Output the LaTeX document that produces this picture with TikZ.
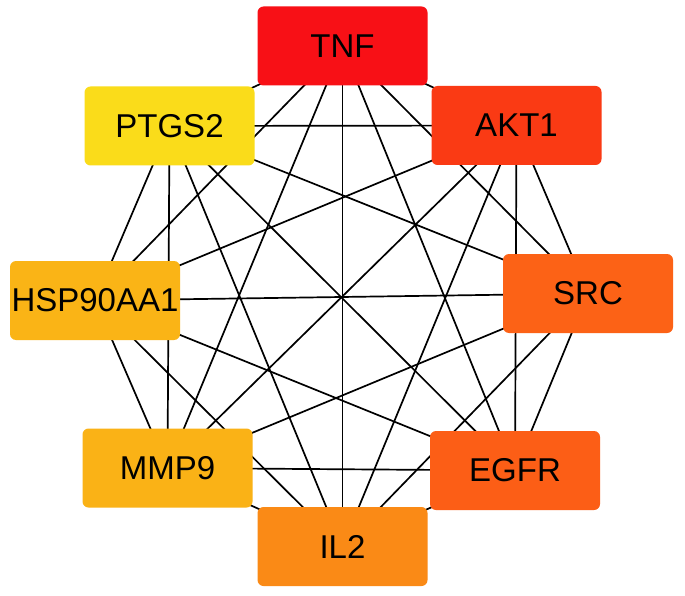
\documentclass[tikz,border=0pt]{standalone}
\usepackage{fontspec}
\setmainfont{Liberation Sans}
\definecolor{cTNF}{RGB}{248,16,22}
\definecolor{cAKT}{RGB}{250,58,20}
\definecolor{cSRC}{RGB}{252,98,22}
\definecolor{cEGFR}{RGB}{252,94,22}
\definecolor{cIL}{RGB}{250,138,22}
\definecolor{cMMP}{RGB}{250,178,22}
\definecolor{cHSP}{RGB}{250,180,22}
\definecolor{cPTG}{RGB}{250,220,26}
\begin{document}
\begin{tikzpicture}[x=1pt,y=-1pt,
  gene/.style={rectangle, rounded corners=6pt, minimum width=170pt, minimum height=79pt, inner sep=0pt, text=black, font=\fontsize{33}{36}\selectfont},
  link/.style={draw=black, line width=1.7pt}]
\useasboundingbox[fill=white] (0,0) rectangle (685,596);
\coordinate (pTNF) at (342.5,46);
\coordinate (pAKT) at (516.5,125.5);
\coordinate (pSRC) at (588,293.5);
\coordinate (pEGFR) at (515,470.5);
\coordinate (pIL) at (342.5,546.5);
\coordinate (pMMP) at (167.5,468);
\coordinate (pHSP) at (95,300.5);
\coordinate (pPTG) at (169.5,126);
\foreach \a/\b in {pTNF/pAKT,pTNF/pSRC,pTNF/pEGFR,pTNF/pIL,pTNF/pMMP,pTNF/pHSP,pTNF/pPTG,
  pAKT/pSRC,pAKT/pEGFR,pAKT/pIL,pAKT/pMMP,pAKT/pHSP,pAKT/pPTG,
  pSRC/pEGFR,pSRC/pIL,pSRC/pMMP,pSRC/pHSP,pSRC/pPTG,
  pEGFR/pIL,pEGFR/pMMP,pEGFR/pHSP,pEGFR/pPTG,
  pIL/pMMP,pIL/pHSP,pIL/pPTG,
  pMMP/pHSP,pMMP/pPTG,
  pHSP/pPTG}
  \draw[link] (\a) -- (\b);
\node[gene, fill=cTNF] (TNF) at (pTNF) {TNF};
\node[gene, fill=cAKT] (AKT1) at (pAKT) {AKT1};
\node[gene, fill=cSRC] (SRC) at (pSRC) {SRC};
\node[gene, fill=cEGFR] (EGFR) at (pEGFR) {EGFR};
\node[gene, fill=cIL] (IL2) at (pIL) {IL2};
\node[gene, fill=cMMP] (MMP9) at (pMMP) {MMP9};
\node[gene, fill=cHSP] (HSP) at (pHSP) {HSP90AA1};
\node[gene, fill=cPTG] (PTGS2) at (pPTG) {PTGS2};
\end{tikzpicture}
\end{document}
